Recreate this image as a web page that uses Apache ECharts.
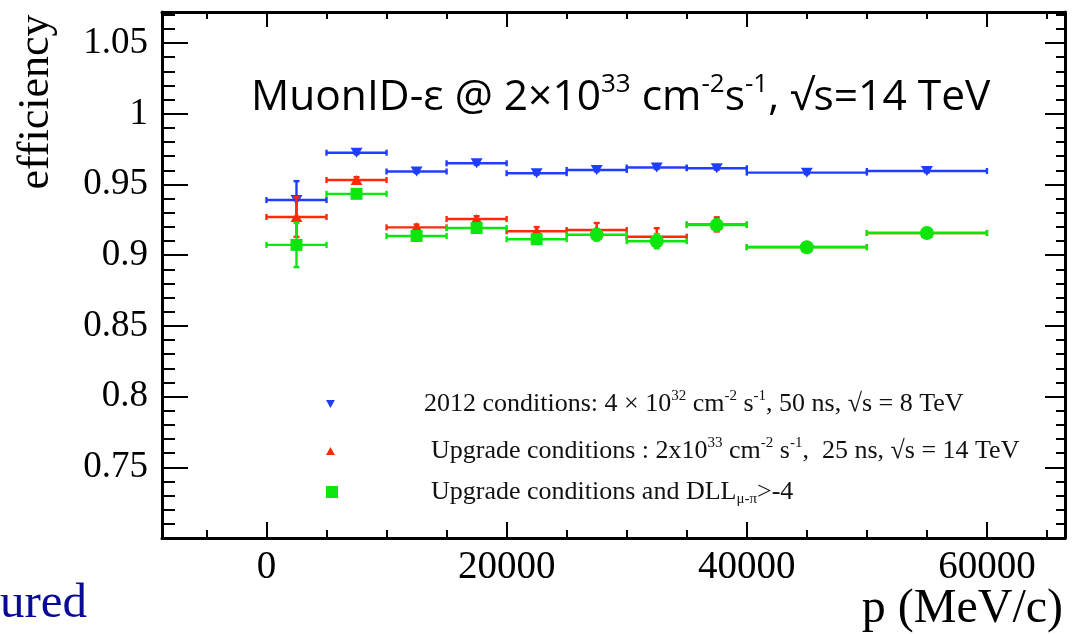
<!DOCTYPE html>
<html>
<head>
<meta charset="utf-8">
<script src="https://cdn.jsdelivr.net/npm/echarts@6/dist/echarts.min.js"></script>
<style>
  html, body { margin: 0; padding: 0; background: #fff; }
  #chart { width: 1080px; height: 634px; }
</style>
</head>
<body>
<div id="chart"></div>
<script>
// ---------- data ----------
const binLow    = [0, 5000, 10000, 15000, 20000, 25000, 30000, 35000, 40000, 50000];
const binHigh   = [5000, 10000, 15000, 20000, 25000, 30000, 35000, 40000, 50000, 60000];
const binCenter = [2500, 7500, 12500, 17500, 22500, 27500, 32500, 37500, 45000, 55000];

const eff2012    = [0.939, 0.9725, 0.9592, 0.965, 0.958, 0.9603, 0.962, 0.9615, 0.9584, 0.9596];
const err2012    = [0.0134, 0.001, 0.001, 0.001, 0.001, 0.001, 0.001, 0.001, 0.001, 0.001];
const effUpgrade = [0.927, 0.9532, 0.9197, 0.9256, 0.9169, 0.9178, 0.9131, 0.9218, 0.9058, 0.9157];
const errUpgrade = [0.014, 0.002, 0.002, 0.002, 0.003, 0.005, 0.006, 0.005, 0.002, 0.002];
const effDLL     = [0.9073, 0.9434, 0.9136, 0.9192, 0.9113, 0.9145, 0.9099, 0.9213, 0.9056, 0.9157];
const errDLL     = [0.0157, 0.002, 0.002, 0.002, 0.003, 0.004, 0.005, 0.004, 0.002, 0.002];

const xTickLabels = [0, 20000, 40000, 60000];
const yTickLabels = [0.75, 0.8, 0.85, 0.9, 0.95, 1, 1.05];

const seriesNames = [
  '2012 conditions: 4 × 10^32 cm^-2 s^-1, 50 ns, √s = 8 TeV',
  'Upgrade conditions : 2x10^33 cm^-2 s^-1, 25 ns, √s = 14 TeV',
  'Upgrade conditions and DLL_μ-π>-4'
];
const legendRich = [
  '{g1| }2012 conditions: 4 × 10{sup|32} cm{sup|-2} s{sup|-1}, 50 ns, √s = 8 TeV',
  '{g2| }Upgrade conditions : 2x10{sup|33} cm{sup|-2} s{sup|-1},  25 ns, √s = 14 TeV',
  '{g3| }Upgrade conditions and DLL{sub|μ-π}>-4'
];

// ---------- styling ----------
const X_MIN = -8700, X_MAX = 66500, Y_MIN = 0.70, Y_MAX = 1.072;
const BLUE = '#1f3dff', RED = '#ff2a0a', GREEN = '#0de60d';
const SERIF = '"Liberation Serif", "DejaVu Serif", serif';
const SANS = '"Open Sans", "Noto Sans", sans-serif';

const xMinor = []; for (let v = -5000; v <= 65000; v += 5000) if (v % 20000 !== 0) xMinor.push(v);
const yMajor = []; for (let i = 70; i <= 105; i += 5) yMajor.push(i / 100);
const yMinor = []; for (let i = 71; i <= 107; i++) if (i % 5 !== 0) yMinor.push(i / 100);

function rows(eff, err) {
  return binCenter.map((c, i) => [binLow[i], binHigh[i], c, eff[i], err[i]]);
}
function pts(eff) { return binCenter.map((c, i) => [c, eff[i]]); }

function errRender(color) {
  return function (params, api) {
    const lo = api.value(0), hi = api.value(1), xc = api.value(2), y = api.value(3), e = api.value(4);
    const pL = api.coord([lo, y]), pR = api.coord([hi, y]);
    const pT = api.coord([xc, y + e]), pB = api.coord([xc, y - e]);
    const st = { stroke: color, lineWidth: 2.4 };
    const cap = 3;
    const L = (x1, y1, x2, y2) => ({ type: 'line', shape: { x1, y1, x2, y2 }, style: st });
    return {
      type: 'group',
      children: [
        L(pL[0], pL[1], pR[0], pR[1]),
        L(pL[0], pL[1] - cap, pL[0], pL[1] + cap),
        L(pR[0], pR[1] - cap, pR[0], pR[1] + cap),
        L(pT[0], pT[1], pB[0], pB[1]),
        L(pT[0] - cap, pT[1], pT[0] + cap, pT[1]),
        L(pB[0] - cap, pB[1], pB[0] + cap, pB[1])
      ]
    };
  };
}

function xAx(pos, ticks, len, showLine, showLabel) {
  return {
    type: 'value', position: pos, min: X_MIN, max: X_MAX,
    axisLine: { show: showLine, onZero: false, lineStyle: { color: '#000', width: 3 } },
    axisTick: { show: true, inside: true, length: len, customValues: ticks, lineStyle: { color: '#000', width: 2 } },
    axisLabel: showLabel ? {
      show: true, customValues: xTickLabels, fontFamily: SERIF, fontSize: 39, color: '#000', margin: 10,
      formatter: v => String(v)
    } : { show: false },
    splitLine: { show: false }
  };
}
function yAx(pos, ticks, len, showLine, showLabel) {
  return {
    type: 'value', position: pos, min: Y_MIN, max: Y_MAX,
    axisLine: { show: showLine, onZero: false, lineStyle: { color: '#000', width: 3 } },
    axisTick: { show: true, inside: true, length: len, customValues: ticks, lineStyle: { color: '#000', width: 2 } },
    axisLabel: showLabel ? {
      show: true, customValues: yTickLabels, fontFamily: SERIF, fontSize: 37, color: '#000', margin: 14,
      formatter: v => String(+v.toFixed(2))
    } : { show: false },
    splitLine: { show: false }
  };
}

const legendTextStyle = {
  fontFamily: SERIF, fontSize: 26, color: '#111', lineHeight: 30,
  rich: {
    g1: { width: 84 }, g2: { width: 91 }, g3: { width: 88 },
    sup: { fontFamily: SERIF, fontSize: 15, lineHeight: 15, verticalAlign: 'top', color: '#111' },
    sub: { fontFamily: SERIF, fontSize: 15, lineHeight: 15, verticalAlign: 'bottom', color: '#111' }
  }
};
function legendFor(i, top, icon, w, h) {
  return {
    data: [seriesNames[i]], left: 321, top: top, orient: 'vertical', icon: icon,
    itemWidth: w, itemHeight: h, selectedMode: false,
    formatter: () => legendRich[i], textStyle: legendTextStyle
  };
}

const chart = echarts.init(document.getElementById('chart'));
chart.setOption({
  animation: false,
  backgroundColor: '#fff',
  grid: { left: 162, right: 15, top: 12, bottom: 96, containLabel: false },
  title: {
    text: '{a|MuonID-ε @ 2×10}{s|33}{a| cm}{s|-2}{a|s}{s|-1}{a|, √s=14 TeV}',
    left: 246, top: 67,
    textStyle: {
      fontWeight: 'normal',
      rich: {
        a: { fontFamily: SANS, fontWeight: 'normal', fontSize: 42.5, lineHeight: 52, color: '#000' },
        s: { fontFamily: SANS, fontWeight: 'normal', fontSize: 26, lineHeight: 36, verticalAlign: 'top', color: '#000' }
      }
    }
  },
  legend: [
    legendFor(0, 384, 'path://M0,0L10,0L5,9Z', 9, 8),
    legendFor(1, 431, 'path://M5,0L10,9L0,9Z', 9, 8),
    legendFor(2, 472, 'rect', 12, 12)
  ],
  xAxis: [
    xAx('bottom', xTickLabels, 16, true, true),
    xAx('bottom', xMinor, 8, false, false),
    xAx('top', xTickLabels, 15, true, false),
    xAx('top', xMinor, 7, false, false)
  ],
  yAxis: [
    yAx('left', yMajor, 26, true, true),
    yAx('left', yMinor, 13, false, false),
    yAx('right', yMajor, 20, true, false),
    yAx('right', yMinor, 9, false, false)
  ],
  graphic: [
    { type: 'text', x: 36, y: 102, rotation: Math.PI / 2,
      style: { text: 'efficiency', font: '44px ' + SERIF, fill: '#000', textAlign: 'center', textVerticalAlign: 'middle' } },
    { type: 'text', x: 1063, y: 609,
      style: { text: 'p (MeV/c)', font: '48px ' + SERIF, fill: '#000', textAlign: 'right', textVerticalAlign: 'middle' } },
    { type: 'text', x: 0, y: 604,
      style: { text: 'ured', font: '49px ' + SERIF, fill: '#0a0a99', textAlign: 'left', textVerticalAlign: 'middle' } }
  ],
  series: [
    { name: 'err2012', type: 'custom', renderItem: errRender(BLUE), data: rows(eff2012, err2012),
      encode: { x: [0, 1, 2], y: [3] }, z: 2 },
    { name: seriesNames[0], type: 'scatter', data: pts(eff2012), symbol: 'path://M0,0L10,0L5,9Z',
      symbolSize: [12, 10], itemStyle: { color: BLUE, opacity: 1 }, z: 3 },
    { name: 'errUpgrade', type: 'custom', renderItem: errRender(RED), data: rows(effUpgrade, errUpgrade),
      encode: { x: [0, 1, 2], y: [3] }, z: 4 },
    { name: seriesNames[1], type: 'scatter', data: pts(effUpgrade), symbol: 'path://M5,0L10,9L0,9Z',
      symbolSize: [12, 10], itemStyle: { color: RED, opacity: 1 }, z: 5 },
    { name: 'errDLL', type: 'custom', renderItem: errRender(GREEN), data: rows(effDLL, errDLL),
      encode: { x: [0, 1, 2], y: [3] }, z: 6 },
    { name: seriesNames[2], type: 'scatter', data: pts(effDLL),
      symbol: (v, p) => (p.dataIndex < 5 ? 'rect' : 'circle'),
      symbolSize: (v, p) => (p.dataIndex < 5 ? 12 : 14),
      itemStyle: { color: GREEN, opacity: 1 }, z: 7 }
  ]
});
</script>
</body>
</html>
